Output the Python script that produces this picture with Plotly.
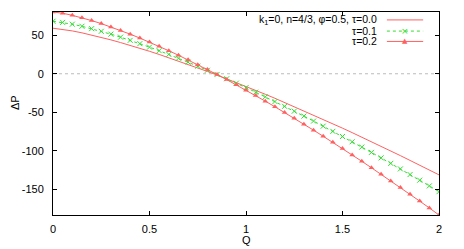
import plotly.graph_objects as go

Q = [0.00, 0.05, 0.10, 0.15, 0.20, 0.25, 0.30, 0.35, 0.40, 0.45,
     0.50, 0.55, 0.60, 0.65, 0.70, 0.75, 0.80, 0.85, 0.90, 0.95,
     1.00, 1.05, 1.10, 1.15, 1.20, 1.25, 1.30, 1.35, 1.40, 1.45,
     1.50, 1.55, 1.60, 1.65, 1.70, 1.75, 1.80, 1.85, 1.90, 1.95, 2.00]

dp_tau00 = [59.0, 57.6, 55.5, 53.0, 50.2, 47.1, 43.9, 40.4, 36.8, 33.0,
            29.1, 25.0, 20.8, 16.6, 12.1, 7.6, 3.0, -1.7, -6.5, -11.4,
            -16.4, -21.5, -26.6, -31.8, -37.2, -42.5, -48.0, -53.5, -59.1, -64.8,
            -70.5, -76.3, -82.1, -88.0, -94.0, -100.0, -106.1, -112.3, -118.4, -124.7, -131.0]

dp_tau01 = [68.0, 66.5, 64.2, 61.5, 58.4, 55.0, 51.3, 47.4, 43.3, 39.0,
            34.5, 29.9, 25.1, 20.1, 15.1, 9.8, 4.5, -0.9, -6.5, -12.2,
            -18.0, -23.9, -29.9, -36.0, -42.2, -48.5, -54.9, -61.3, -67.9, -74.6,
            -81.3, -88.1, -95.0, -101.9, -109.0, -116.1, -123.3, -130.6, -137.9, -145.3, -152.8]

dp_tau02 = [80.0, 78.4, 75.7, 72.6, 68.9, 65.0, 60.7, 56.1, 51.3, 46.2,
            41.0, 35.5, 29.8, 24.0, 18.0, 11.8, 5.5, -1.0, -7.6, -14.4,
            -21.3, -28.3, -35.5, -42.8, -50.2, -57.7, -65.4, -73.1, -81.0, -88.9,
            -97.0, -105.2, -113.4, -121.8, -130.2, -138.8, -147.4, -156.2, -165.0, -173.9, -183.0]

legend_labels = ["k<sub>1</sub>=0, n=4/3, φ=0.5, τ=0.0", "τ=0.1", "τ=0.2"]
x_ticks = [0, 0.5, 1, 1.5, 2]
x_ticklabels = ["0", "0.5", "1", "1.5", "2"]
y_ticks = [-150, -100, -50, 0, 50]
y_ticklabels = ["-150", "-100", "-50", "0", "50"]

RED = "#ff6060"
GREEN = "#33dd33"
FONT = "Liberation Sans"

fig = go.Figure()
fig.add_trace(go.Scatter(x=Q, y=dp_tau00, mode="lines",
                         line=dict(color=RED, width=1), showlegend=False))
fig.add_trace(go.Scatter(x=Q, y=dp_tau01, mode="lines+markers",
                         line=dict(color=GREEN, width=1, dash="dot"),
                         marker=dict(symbol="x-thin", size=5, color=GREEN,
                                     line=dict(color=GREEN, width=1)),
                         showlegend=False))
fig.add_trace(go.Scatter(x=Q, y=dp_tau02, mode="lines+markers",
                         line=dict(color=RED, width=1),
                         marker=dict(symbol="triangle-up", size=5, color=RED),
                         showlegend=False))

# zero axis (dotted)
fig.add_shape(type="line", xref="paper", x0=0, x1=1, yref="y", y0=0, y1=0,
              line=dict(color="#bbbbbb", width=1, dash="dot"), layer="below")

# custom gnuplot-style legend
rows_y = [0.961, 0.906, 0.855]
styles = [(RED, "solid", None), (GREEN, "dot", "×"), (RED, "solid", "▲")]
for lab, yy, (col, dash, glyph) in zip(legend_labels, rows_y, styles):
    fig.add_annotation(xref="paper", yref="paper", x=0.842, y=yy, text=lab,
                       showarrow=False, xanchor="right", yanchor="middle",
                       font=dict(family=FONT, size=10.5, color="black"),
                       borderpad=0)
    fig.add_shape(type="line", xref="paper", yref="paper", x0=0.865, x1=0.959,
                  y0=yy, y1=yy, line=dict(color=col, width=1, dash=dash))
    if glyph:
        fig.add_annotation(xref="paper", yref="paper", x=0.912, y=yy, text=glyph,
                           showarrow=False, xanchor="center", yanchor="middle",
                           borderpad=0,
                           font=dict(family="DejaVu Sans", size=7 if glyph == "▲" else 9, color=col))

# axis titles
fig.add_annotation(xref="paper", yref="paper", x=0.5, y=-0.123, text="Q",
                   showarrow=False, xanchor="center", yanchor="middle",
                   font=dict(family=FONT, size=11, color="black"))
fig.add_annotation(xref="paper", yref="paper", x=-0.098, y=0.552, text="ΔP",
                   showarrow=False, xanchor="center", yanchor="middle", textangle=-90,
                   font=dict(family=FONT, size=11, color="black"))

axis_common = dict(showgrid=False, zeroline=False, showline=True, linecolor="black",
                   linewidth=1, mirror="allticks", ticks="inside", ticklen=4,
                   tickcolor="black", automargin=False,
                   tickfont=dict(family=FONT, size=11, color="black"))

fig.update_xaxes(range=[0, 2], tickvals=x_ticks, ticktext=x_ticklabels,
                 ticklabelstandoff=4, **axis_common)
fig.update_yaxes(range=[-183, 80], tickvals=y_ticks, ticktext=y_ticklabels,
                 ticklabelstandoff=6, **axis_common)

fig.update_layout(width=464, height=249, margin=dict(l=53, r=25, t=12, b=34),
                  plot_bgcolor="white", paper_bgcolor="white",
                  font=dict(family=FONT, size=11))

fig.write_html("out.html", config={"displayModeBar": False},
               post_script="document.body.style.margin='0';document.body.style.overflow='hidden';")
